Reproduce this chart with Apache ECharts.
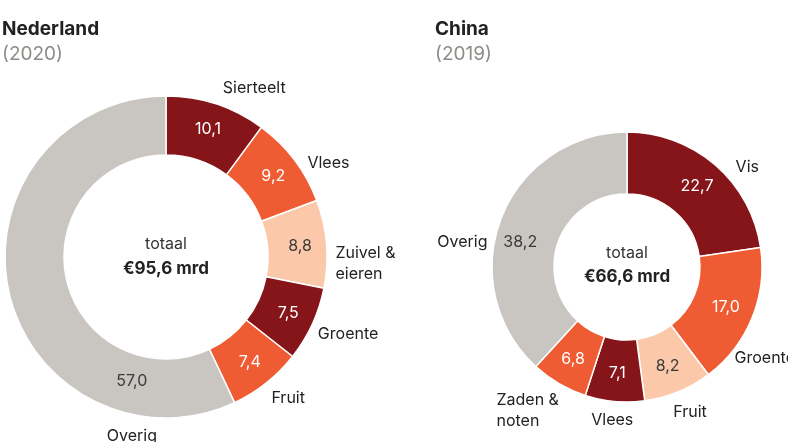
<!DOCTYPE html>
<html>
<head>
<meta charset="utf-8">
<script src="https://cdn.jsdelivr.net/npm/echarts@6/dist/echarts.min.js"></script>
<style>
html,body{margin:0;padding:0;background:#fff;}
#chart{width:788px;height:442px;}
</style>
</head>
<body>
<div id="chart"></div>
<script>
// ---- data ----
const nlTitle = 'Nederland';
const nlYear = '(2020)';
const nlTotalLabel = 'totaal';
const nlTotal = '€95,6 mrd';
const nlCategories = ['Sierteelt', 'Vlees', 'Zuivel &\neieren', 'Groente', 'Fruit', 'Overig'];
const nlValues = [10.1, 9.2, 8.8, 7.5, 7.4, 57.0];

const cnTitle = 'China';
const cnYear = '(2019)';
const cnTotalLabel = 'totaal';
const cnTotal = '€66,6 mrd';
const cnCategories = ['Vis', 'Groente', 'Fruit', 'Vlees', 'Zaden &\nnoten', 'Overig'];
const cnValues = [22.7, 17.0, 8.2, 7.1, 6.8, 38.2];

// ---- styles ----
const DARK = '#86151a', ORANGE = '#ef5b33', PEACH = '#fbc9aa', GREY = '#c9c6c2';
const nlColors = [DARK, ORANGE, PEACH, DARK, ORANGE, GREY];
const cnColors = [DARK, ORANGE, PEACH, DARK, ORANGE, GREY];
const FONT = 'Inter';

function txtColor(c) { return (c === PEACH || c === GREY) ? '#3a3a3a' : '#ffffff'; }
function fmt(v) { return v.toFixed(1).replace('.', ','); }

// label offsets (style only)
const nlInnerOff = {5: {dx: 97, dy: 95}};
const nlOuterOff = {0: {dx: 0, dy: -11}, 1: {dx: 4, dy: 6}, 2: {dx: -1, dy: 20}, 3: {dx: -4, dy: 8}, 4: {dx: -3, dy: 11}, 5: {dx: 158, dy: 143}};
const cnInnerOff = {5: {dx: -7, dy: 14}};
const cnOuterOff = {0: {dx: 12, dy: 6}, 1: {dx: -27, dy: 38}, 2: {dx: -12, dy: 16}, 3: {dx: 24, dy: 14}, 4: {dx: -55, dy: 23, align: 'left'}, 5: {dx: -4, dy: 26}};

function layoutFn(off) {
  return function (params) {
    return off[params.dataIndex] ? off[params.dataIndex] : {};
  };
}

function innerSeries(cats, vals, colors, center, radius, off) {
  return {
    type: 'pie', center: center, radius: radius, startAngle: 90, clockwise: true,
    avoidLabelOverlap: false, silent: true,
    itemStyle: {borderColor: '#ffffff', borderWidth: 1.5},
    data: vals.map((v, i) => ({
      name: cats[i], value: v,
      itemStyle: {color: colors[i]},
      label: {color: txtColor(colors[i])}
    })),
    label: {show: true, position: 'inside', formatter: p => fmt(p.value),
      fontFamily: FONT, fontSize: 16},
    labelLine: {show: false},
    labelLayout: layoutFn(off)
  };
}
function outerSeries(cats, vals, center, radius, off) {
  return {
    type: 'pie', center: center, radius: radius, startAngle: 90, clockwise: true,
    avoidLabelOverlap: false, silent: true,
    itemStyle: {color: 'rgba(0,0,0,0)'},
    data: vals.map((v, i) => ({name: cats[i], value: v})),
    label: {show: true, position: 'outside', formatter: p => p.name,
      fontFamily: FONT, fontSize: 16, color: '#222222', lineHeight: 21},
    labelLine: {show: false, length: 5, length2: 0},
    labelLayout: layoutFn(off)
  };
}

const chart = echarts.init(document.getElementById('chart'), null, {renderer: 'canvas'});
chart.setOption({
  animation: false,
  backgroundColor: '#ffffff',
  graphic: [
    {type: 'text', x: 2, y: 29, style: {text: nlTitle, font: 'bold 19px ' + FONT, fill: '#222222', textVerticalAlign: 'middle'}},
    {type: 'text', x: 2, y: 54, style: {text: nlYear, font: '19px ' + FONT, fill: '#8f8b87', textVerticalAlign: 'middle'}},
    {type: 'text', x: 435, y: 29, style: {text: cnTitle, font: 'bold 19px ' + FONT, fill: '#222222', textVerticalAlign: 'middle'}},
    {type: 'text', x: 435, y: 54, style: {text: cnYear, font: '19px ' + FONT, fill: '#8f8b87', textVerticalAlign: 'middle'}},
    {type: 'text', x: 166, y: 244, style: {text: nlTotalLabel, font: '16px ' + FONT, fill: '#333333', textAlign: 'center', textVerticalAlign: 'middle'}},
    {type: 'text', x: 166, y: 269, style: {text: nlTotal, font: 'bold 17px ' + FONT, fill: '#222222', textAlign: 'center', textVerticalAlign: 'middle'}},
    {type: 'text', x: 627, y: 253, style: {text: cnTotalLabel, font: '16px ' + FONT, fill: '#333333', textAlign: 'center', textVerticalAlign: 'middle'}},
    {type: 'text', x: 627, y: 277, style: {text: cnTotal, font: 'bold 17px ' + FONT, fill: '#222222', textAlign: 'center', textVerticalAlign: 'middle'}}
  ],
  series: [
    innerSeries(nlCategories, nlValues, nlColors, [166, 257], [102, 161], nlInnerOff),
    outerSeries(nlCategories, nlValues, [166, 257], [102, 161], nlOuterOff),
    innerSeries(cnCategories, cnValues, cnColors, [627, 267], [73, 135], cnInnerOff),
    outerSeries(cnCategories, cnValues, [627, 267], [73, 135], cnOuterOff)
  ]
});
</script>
</body>
</html>
